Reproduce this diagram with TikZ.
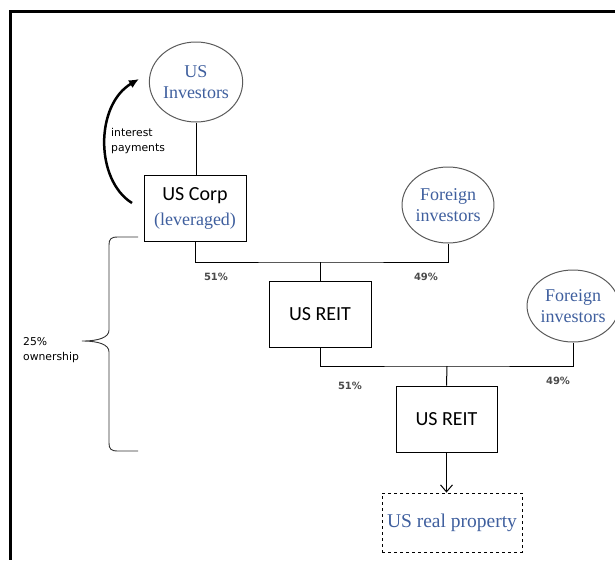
\documentclass[tikz,border=0pt]{standalone}
\usepackage{fontspec}
\setmainfont{Liberation Serif}
\newfontfamily\calibri{Carlito}
\newfontfamily\labelfont{DejaVu Sans}
\usetikzlibrary{arrows.meta, shapes.geometric}
\definecolor{textblue}{HTML}{3F5F9E}
\definecolor{pctgray}{HTML}{4A4A4A}
\definecolor{ovalgray}{HTML}{5A5A5A}

\begin{document}
\begin{tikzpicture}[x=1pt, y=-1pt,
    investor/.style={draw=ovalgray, line width=1pt, ellipse, inner sep=0pt,
                     align=center, text=textblue, font=\fontsize{18}{21}\selectfont},
    entity/.style={draw, line width=1pt, minimum width=102pt, minimum height=66pt,
                   align=center, font=\calibri\fontsize{20}{24}\selectfont},
    pct/.style={font=\labelfont\bfseries\fontsize{10}{12}\selectfont, text=pctgray},
    note/.style={font=\labelfont\fontsize{10.8}{15}\selectfont, align=left, inner sep=0pt},
    link/.style={line width=1pt}
  ]
  \useasboundingbox (0,0) rectangle (615,560);
  % frame
  \draw[line width=3pt] (615,11.5) -- (10.5,11.5) -- (10.5,560);

  \node[investor, minimum width=92pt, minimum height=80pt] (inv) at (196,82) {US\\Investors};
  \node[entity] (corp) at (195,208.5)
    {US Corp\\[1pt]{\rmfamily\color{textblue}\fontsize{18}{22}\selectfont(leveraged)}};
  \node[investor, minimum width=90pt, minimum height=76pt] (fi1) at (448,205) {Foreign\\investors};
  \node[entity] (reit1) at (320,314) {US REIT};
  \node[investor, minimum width=86pt, minimum height=72pt] (fi2) at (573,306) {Foreign\\investors};
  \node[entity, minimum width=101pt] (reit2) at (446.5,419) {US REIT};
  \node[draw, dashed, line width=0.8pt, minimum width=140pt, minimum height=59pt,
        text=textblue, font=\fontsize{19.5}{23}\selectfont] (prop) at (452,522.5) {US real property};

  % ownership lines
  \coordinate (split1) at (320,262);
  \coordinate (split2) at (447,366);
  \draw[link] (inv.south) -- (inv.south |- corp.north);
  \draw[link] (corp.south) |- (split1) -| (fi1.south);
  \draw[link] (split1) -- (reit1.north);
  \draw[link] (reit1.south) |- (split2) -| (fi2.south);
  \draw[link] (split2) -- (reit2.north);
  \draw[link, -{Straight Barb[length=7pt,width=12pt]}] (reit2.south) -- (reit2.south |- prop.north);

  \node[pct] (p1) at (216,277) {51\%};
  \node[pct] (p2) at (426,277) {49\%};
  \node[pct] (p3) at (350,386) {51\%};
  \node[pct] (p4) at (558,381) {49\%};

  % interest payments
  \coordinate (payS) at (132,203);
  \coordinate (payE) at (139,79);
  \draw[line width=2.5pt, -{Latex[length=10pt,width=9pt]}]
    (payS) .. controls (95,180) and (95,105) .. (payE);
  \node[note, anchor=west] (pay) at (111,141) {interest\\payments};

  % brace
  \draw[line width=0.9pt, draw=black!80]
    (138,237) -- (118,237) .. controls (111,237) and (109,239) .. (109,245)
    -- (109,330) .. controls (109,337) and (100,341) .. (82,341)
    .. controls (100,341) and (109,345) .. (109,352)
    -- (109,443) .. controls (109,449) and (111,451) .. (118,451) -- (138,451);
  \node[note, anchor=west] (own) at (23,350) {25\%\\ownership};
\end{tikzpicture}
\end{document}
